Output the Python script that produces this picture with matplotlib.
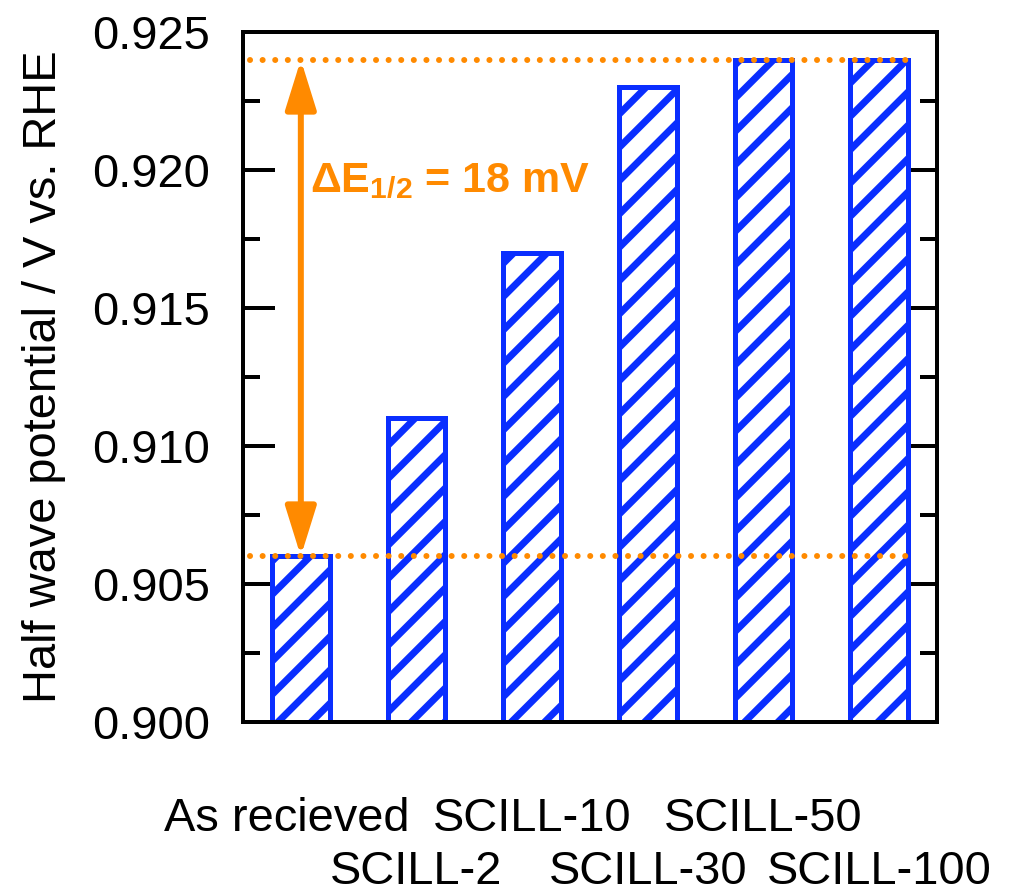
import matplotlib
matplotlib.use('Agg')
import matplotlib.pyplot as plt
from matplotlib.ticker import MultipleLocator, FormatStrFormatter
from matplotlib.transforms import ScaledTranslation

DPI = 100


def pt(px):
    # pixel sizes to points at the figure dpi
    return px * 72.0 / DPI


plt.rcParams['font.family'] = ['Liberation Sans', 'DejaVu Sans']
plt.rcParams['mathtext.fontset'] = 'custom'
plt.rcParams['mathtext.rm'] = 'Liberation Sans'
plt.rcParams['mathtext.bf'] = 'Liberation Sans:bold'
plt.rcParams['hatch.linewidth'] = 5
plt.rcParams['hatch.color'] = '#0a2eff'

samples = ['As recieved', 'SCILL-2', 'SCILL-10', 'SCILL-30', 'SCILL-50', 'SCILL-100']
e_half = [0.906, 0.911, 0.917, 0.923, 0.924, 0.924]
y_lo, y_hi = 0.900, 0.925

blue = '#0a2eff'
orange = '#ff8a00'

fig = plt.figure(figsize=(1019 / DPI, 893 / DPI), dpi=DPI)
ax = fig.add_axes([243 / 1019, 1 - 722 / 893, (937 - 243) / 1019, (722 - 32) / 893])

x = list(range(len(samples)))
ax.bar(x, [v - y_lo for v in e_half], bottom=y_lo, width=0.5,
       facecolor='white', edgecolor=blue, linewidth=pt(5), hatch='/', zorder=2)

# reference levels for lowest and highest half wave potential
e_min, e_max = min(e_half), max(e_half)
for lvl in (e_min, e_max):
    ax.hlines(lvl, -0.44, 5.31, colors=orange, lw=pt(6),
              linestyles=(0, (0.01, 2.09)), capstyle='round', zorder=3)

ax.annotate('', xy=(0, e_max), xytext=(0, e_min),
            arrowprops=dict(arrowstyle='<|-|>,head_length=%.1f,head_width=%.1f' % (pt(42), pt(13)),
                            mutation_scale=1, color=orange, lw=pt(6),
                            shrinkA=0, shrinkB=0), zorder=4)
delta_mv = round((e_max - e_min) * 1000)
ax.text(0.08, 0.9196, r'$\mathbf{\Delta E_{1/2}}$ = %d mV' % delta_mv,
        color=orange, fontsize=pt(43), fontweight='bold', va='center', ha='left')

ax.set_xlim(-0.5, 5.5)
ax.set_ylim(y_lo, y_hi)
ax.yaxis.set_major_locator(MultipleLocator(0.005))
ax.yaxis.set_minor_locator(MultipleLocator(0.0025))
ax.yaxis.set_major_formatter(FormatStrFormatter('%.3f'))
ax.tick_params(axis='y', which='both', direction='in', left=True, right=True,
               width=pt(4), labelsize=pt(47), pad=pt(33))
ax.tick_params(axis='y', which='major', length=pt(32))
ax.tick_params(axis='y', which='minor', length=pt(17))

# alternate labels drop to a second row
ax.set_xticks(x)
ax.set_xticklabels(samples, fontsize=pt(47))
ax.tick_params(axis='x', which='both', length=0, pad=pt(75))
for i, tick in enumerate(ax.xaxis.get_major_ticks()):
    if i % 2 == 1:
        tick.set_pad(pt(128))
first = ax.get_xticklabels()[0]
first.set_transform(first.get_transform() + ScaledTranslation(-14 / DPI, 0, fig.dpi_scale_trans))

for sp in ax.spines.values():
    sp.set_linewidth(pt(4))

ax.set_ylabel('Half wave potential / V vs. RHE', fontsize=pt(47), labelpad=pt(26))

fig.savefig('out.png', dpi=DPI)
